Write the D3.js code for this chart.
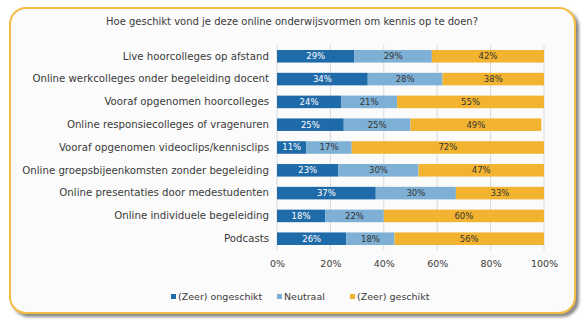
<!DOCTYPE html>
<html>
<head>
<meta charset="utf-8">
<script src="https://cdn.jsdelivr.net/npm/d3@7"></script>
<style>
  body { margin: 0; background: #fff; }
  svg { display: block; font-family: "DejaVu Sans", sans-serif; }
</style>
</head>
<body>
<svg width="585" height="322"></svg>
<script>
// survey: how suitable is each online format for acquiring knowledge
var categories = [
  "Live hoorcolleges op afstand",
  "Online werkcolleges onder begeleiding docent",
  "Vooraf opgenomen hoorcolleges",
  "Online responsiecolleges of vragenuren",
  "Vooraf opgenomen videoclips/kennisclips",
  "Online groepsbijeenkomsten zonder begeleiding",
  "Online presentaties door medestudenten",
  "Online individuele begeleiding",
  "Podcasts"
];
var ongeschikt = [29, 34, 24, 25, 11, 23, 37, 18, 26];
var neutraal   = [29, 28, 21, 25, 17, 30, 30, 22, 18];
var geschikt   = [42, 38, 55, 49, 72, 47, 33, 60, 56];
var seriesNames = ["(Zeer) ongeschikt", "Neutraal", "(Zeer) geschikt"];
var tickValues = [0, 20, 40, 60, 80, 100];

var colors = ["#1f6aa8", "#7eb0d5", "#f2b330"];
var labelColors = ["#ffffff", "#333333", "#333333"];

var svg = d3.select("svg");

var defs = svg.append("defs");
var shadow = defs.append("filter").attr("id", "shadow")
    .attr("x", "-5%").attr("y", "-5%").attr("width", "112%").attr("height", "115%");
shadow.append("feDropShadow")
    .attr("dx", 3).attr("dy", 3).attr("stdDeviation", 1.6)
    .attr("flood-color", "#555").attr("flood-opacity", 0.7);

// rounded frame
svg.append("rect")
    .attr("x", 10).attr("y", 8)
    .attr("width", 565).attr("height", 305)
    .attr("rx", 16).attr("ry", 16)
    .attr("fill", "#fbfbfb")
    .attr("stroke", "#f3bd45")
    .attr("stroke-width", 2)
    .attr("filter", "url(#shadow)");

svg.append("text")
    .attr("x", 292).attr("y", 25)
    .attr("text-anchor", "middle")
    .attr("font-size", 10)
    .attr("fill", "#3a3a3a")
    .text("Hoe geschikt vond je deze online onderwijsvormen om kennis op te doen?");

var x = d3.scaleLinear().domain([0, 100]).range([277, 544]);
var y = d3.scaleBand().domain(categories).range([45, 250]).paddingInner(0.45).paddingOuter(0.22);

// vertical gridlines
svg.append("g").selectAll("line")
    .data(tickValues)
    .enter().append("line")
    .attr("x1", function(d) { return x(d); })
    .attr("x2", function(d) { return x(d); })
    .attr("y1", 45).attr("y2", 250)
    .attr("stroke", "#d9d9d9")
    .attr("stroke-width", 1);

var xAxis = svg.append("g")
    .attr("transform", "translate(0,250)")
    .call(d3.axisBottom(x).tickValues(tickValues).tickSize(0).tickPadding(10)
        .tickFormat(function(d) { return d + "%"; }));
xAxis.select(".domain").remove();
xAxis.selectAll("text").attr("font-size", 9.5).attr("fill", "#3a3a3a").attr("font-family", "DejaVu Sans");

var yAxis = svg.append("g")
    .attr("transform", "translate(269,0)")
    .call(d3.axisLeft(y).tickSize(0).tickPadding(0));
yAxis.select(".domain").remove();
yAxis.selectAll("text").attr("font-size", 10.2).attr("fill", "#3a3a3a").attr("font-family", "DejaVu Sans");

// stack the three answer groups
var rows = categories.map(function(c, i) {
  return { cat: c, s0: ongeschikt[i], s1: neutraal[i], s2: geschikt[i] };
});
var stack = d3.stack().keys(["s0", "s1", "s2"]);
var layers = stack(rows);

var layer = svg.append("g").selectAll("g")
    .data(layers)
    .enter().append("g")
    .attr("fill", function(d, i) { return colors[i]; });

layer.selectAll("rect")
    .data(function(d) { return d; })
    .enter().append("rect")
    .attr("x", function(d) { return x(d[0]); })
    .attr("y", function(d) { return y(d.data.cat); })
    .attr("width", function(d) { return x(d[1]) - x(d[0]); })
    .attr("height", y.bandwidth());

layers.forEach(function(l, i) {
  svg.append("g").selectAll("text")
      .data(l)
      .enter().append("text")
      .attr("x", function(d) { return (x(d[0]) + x(d[1])) / 2; })
      .attr("y", function(d) { return y(d.data.cat) + y.bandwidth() / 2; })
      .attr("dy", "0.35em")
      .attr("text-anchor", "middle")
      .attr("font-size", 8.5)
      .attr("fill", labelColors[i])
      .text(function(d) { return (d[1] - d[0]) + "%"; });
});

// legend
var legendX = [171, 277, 350];
var legend = svg.append("g").selectAll("g")
    .data(seriesNames)
    .enter().append("g")
    .attr("transform", function(d, i) { return "translate(" + legendX[i] + ",297)"; });
legend.append("rect")
    .attr("x", 0).attr("y", -3)
    .attr("width", 5).attr("height", 5)
    .attr("fill", function(d, i) { return colors[i]; });
legend.append("text")
    .attr("x", 7).attr("y", 0)
    .attr("dy", "0.35em")
    .attr("font-size", 9.5)
    .attr("fill", "#3a3a3a")
    .text(function(d) { return d; });
</script>
</body>
</html>
